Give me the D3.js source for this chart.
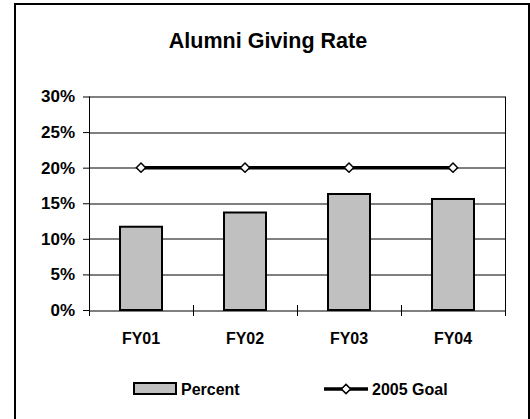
<!DOCTYPE html>
<html>
<head>
<meta charset="utf-8">
<script src="https://cdn.jsdelivr.net/npm/d3@7"></script>
<style>
  body { margin: 0; background: #fff; }
  text { font-family: "Liberation Sans", Arial, sans-serif; font-weight: bold; fill: #000; }
</style>
</head>
<body>
<div id="chart"></div>
<script>
var categories = ["FY01", "FY02", "FY03", "FY04"];
var percentValues = [11.7, 13.7, 16.3, 15.6];
var goalValues = [20, 20, 20, 20];
var yTicks = [0, 5, 10, 15, 20, 25, 30];

var W = 530, H = 419;
var margin = { top: 96.5, right: 25, bottom: 109, left: 89 },
    width = W - margin.left - margin.right,
    height = H - margin.top - margin.bottom;

var root = d3.select("#chart").append("svg")
    .attr("width", W)
    .attr("height", H);

// outer chart frame
root.append("rect")
    .attr("x", 15).attr("y", 4)
    .attr("width", 514).attr("height", H + 10)
    .attr("fill", "none")
    .attr("stroke", "#000")
    .attr("stroke-width", 2);

root.append("text")
    .attr("x", 268).attr("y", 48)
    .attr("text-anchor", "middle")
    .style("font-size", "21.5px")
    .text("Alumni Giving Rate");

var svg = root.append("g")
    .attr("transform", "translate(" + margin.left + "," + margin.top + ")");

var x = d3.scaleBand().domain(categories).range([0, width]);
var y = d3.scaleLinear().domain([0, 30]).range([height, 0]);

// gridlines
svg.selectAll(".grid")
    .data(yTicks.filter(function (d) { return d > 0; }))
    .enter().append("line")
    .attr("x1", 0).attr("x2", width)
    .attr("y1", function (d) { return Math.round(y(d)) + 0.5; })
    .attr("y2", function (d) { return Math.round(y(d)) + 0.5; })
    .attr("stroke", "#000")
    .attr("stroke-width", 1);

// right border
svg.append("line")
    .attr("x1", width + 0.5).attr("x2", width + 0.5)
    .attr("y1", y(30)).attr("y2", height + 5)
    .attr("stroke", "#000");

// y axis
var yAxis = svg.append("g")
    .call(d3.axisLeft(y).tickValues(yTicks).tickSize(6).tickPadding(8)
        .tickFormat(function (d) { return d + "%"; }));
yAxis.select(".domain").remove();
yAxis.append("line")
    .attr("x1", 0.5).attr("x2", 0.5)
    .attr("y1", y(30)).attr("y2", height + 5)
    .attr("stroke", "#000");
yAxis.selectAll("text").style("font-size", "17px").attr("fill", "#000");
yAxis.selectAll(".tick line").attr("stroke", "#000");

// bars
svg.selectAll(".bar")
    .data(percentValues)
    .enter().append("rect")
    .attr("x", function (d, i) { return x(categories[i]) + x.bandwidth() / 2 - 21; })
    .attr("width", 42)
    .attr("y", function (d) { return y(d); })
    .attr("height", function (d) { return height - y(d); })
    .attr("fill", "#c0c0c0")
    .attr("stroke", "#000")
    .attr("stroke-width", 2);

// x axis
var xAxis = svg.append("g")
    .attr("transform", "translate(0," + (Math.round(height) + 0.5) + ")");
xAxis.append("line")
    .attr("x1", 0).attr("x2", width)
    .attr("stroke", "#000");
xAxis.selectAll(".xt")
    .data(d3.range(categories.length + 1))
    .enter().append("line")
    .attr("x1", function (i) { return Math.round(i * x.step()) + 0.5; })
    .attr("x2", function (i) { return Math.round(i * x.step()) + 0.5; })
    .attr("y1", -6).attr("y2", 5)
    .attr("stroke", "#000");
xAxis.selectAll(".xl")
    .data(categories)
    .enter().append("text")
    .attr("x", function (d) { return x(d) + x.bandwidth() / 2; })
    .attr("y", 32.5)
    .attr("text-anchor", "middle")
    .style("font-size", "16px")
    .text(function (d) { return d; });

// goal line
var line = d3.line()
    .x(function (d, i) { return x(categories[i]) + x.bandwidth() / 2; })
    .y(function (d) { return y(d); });

svg.append("path")
    .datum(goalValues)
    .attr("d", line)
    .attr("fill", "none")
    .attr("stroke", "#000")
    .attr("stroke-width", 3.5);

var diamond = d3.symbol().type(d3.symbolDiamond2).size(55);
svg.selectAll(".mk")
    .data(goalValues)
    .enter().append("path")
    .attr("d", diamond)
    .attr("transform", function (d, i) {
        return "translate(" + (x(categories[i]) + x.bandwidth() / 2) + "," + y(d) + ")";
    })
    .attr("fill", "#fff")
    .attr("stroke", "#000")
    .attr("stroke-width", 1.5);

// legend
var leg = root.append("g");
leg.append("rect")
    .attr("x", 134).attr("y", 383)
    .attr("width", 42).attr("height", 11)
    .attr("fill", "#c0c0c0")
    .attr("stroke", "#000")
    .attr("stroke-width", 2);
leg.append("text")
    .attr("x", 181).attr("y", 395)
    .style("font-size", "16px")
    .text("Percent");

leg.append("line")
    .attr("x1", 324).attr("x2", 368)
    .attr("y1", 389).attr("y2", 389)
    .attr("stroke", "#000")
    .attr("stroke-width", 3.5);
leg.append("path")
    .attr("d", diamond)
    .attr("transform", "translate(346,389)")
    .attr("fill", "#fff")
    .attr("stroke", "#000")
    .attr("stroke-width", 1.5);
leg.append("text")
    .attr("x", 372).attr("y", 395)
    .style("font-size", "16px")
    .text("2005 Goal");
</script>
</body>
</html>
